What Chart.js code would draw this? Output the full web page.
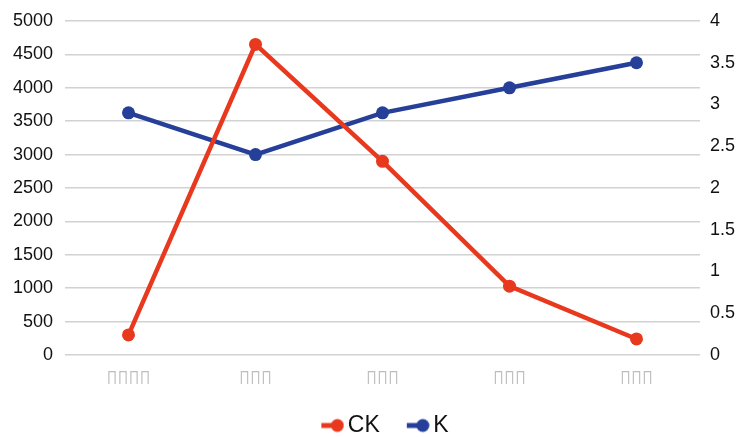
<!DOCTYPE html>
<html>
<head>
<meta charset="utf-8">
<script src="https://cdn.jsdelivr.net/npm/chart.js@4"></script>
<style>
  html, body { margin: 0; padding: 0; background: #ffffff; }
  #wrap { width: 739px; height: 437px; }
</style>
</head>
<body>
<div id="wrap"><canvas id="chart" width="739" height="437"></canvas></div>
<script>
// Category labels (glyphs the source font could not render)
const categories = ['\u25AF\u25AF\u25AF\u25AF', '\u25AF\u25AF\u25AF', '\u25AF\u25AF\u25AF', '\u25AF\u25AF\u25AF', '\u25AF\u25AF\u25AF'];
// CK series, left axis
const ckValues = [300, 4650, 2900, 1030, 240];
// K series, right axis
const kValues = [2.9, 2.4, 2.9, 3.2, 3.5];

const RED = '#e8391f';
const BLUE = '#263f98';

// Legend marker: short line ending in a dot
function legendMarker(color) {
  const c = document.createElement('canvas');
  c.width = 28; c.height = 16;
  const g = c.getContext('2d');
  g.strokeStyle = color;
  g.lineWidth = 5;
  g.beginPath();
  g.moveTo(5, 8); g.lineTo(21, 8);
  g.stroke();
  g.fillStyle = color;
  g.beginPath();
  g.arc(21, 8, 6.5, 0, Math.PI * 2);
  g.fill();
  return c;
}
const markers = [legendMarker(RED), legendMarker(BLUE)];

// Nudge the legend row to the right of the canvas centre
const legendShift = {
  id: 'legendShift',
  afterLayout(chart) {
    if (chart.legend) {
      chart.legend.left += 17;
      chart.legend.right += 17;
    }
  }
};

const tickFont = { family: 'Liberation Sans, Arial, sans-serif', size: 18, lineHeight: 1 };

new Chart(document.getElementById('chart'), {
  type: 'line',
  data: {
    labels: categories,
    datasets: [
      {
        label: 'CK',
        data: ckValues,
        yAxisID: 'y',
        borderColor: RED,
        backgroundColor: RED,
        borderWidth: 4.5,
        pointRadius: 6.5,
        pointBackgroundColor: RED,
        pointBorderWidth: 0,
        tension: 0
      },
      {
        label: 'K',
        data: kValues,
        yAxisID: 'y1',
        borderColor: BLUE,
        backgroundColor: BLUE,
        borderWidth: 4.5,
        pointRadius: 6.5,
        pointBackgroundColor: BLUE,
        pointBorderWidth: 0,
        tension: 0
      }
    ]
  },
  plugins: [legendShift],
  options: {
    responsive: false,
    animation: false,
    layout: { padding: { top: 19, left: 0, right: 0, bottom: 0 } },
    plugins: {
      tooltip: { enabled: false },
      legend: {
        position: 'bottom',
        maxHeight: 53,
        labels: {
          usePointStyle: true,
          pointStyleWidth: 12,
          boxHeight: 12,
          padding: 30,
          color: '#111111',
          font: { family: 'Liberation Sans, Arial, sans-serif', size: 23 },
          generateLabels(chart) {
            return chart.data.datasets.map((ds, i) => ({
              text: ds.label,
              fillStyle: ds.borderColor,
              strokeStyle: ds.borderColor,
              lineWidth: 0,
              pointStyle: markers[i],
              hidden: false,
              datasetIndex: i,
              fontColor: '#111111'
            }));
          }
        }
      }
    },
    scales: {
      x: {
        offset: true,
        grid: { display: false, drawTicks: false },
        border: { display: false },
        ticks: {
          padding: 12,
          color: '#bdbdbd',
          font: { family: 'DejaVu Sans, sans-serif', size: 20 }
        },
        afterFit(scale) { scale.height = 29; }
      },
      y: {
        position: 'left',
        min: 0,
        max: 5000,
        ticks: {
          stepSize: 500,
          padding: 12,
          color: '#111111',
          font: tickFont,
          callback: (v) => String(v)
        },
        grid: { color: '#d2d2d2', lineWidth: 1.5, drawTicks: false },
        border: { display: false },
        afterFit(scale) { scale.width = 65; }
      },
      y1: {
        position: 'right',
        min: 0,
        max: 4,
        ticks: {
          stepSize: 0.5,
          padding: 10,
          color: '#111111',
          font: tickFont,
          callback: (v) => String(Number(v.toFixed(1)))
        },
        grid: { drawOnChartArea: false, drawTicks: false },
        border: { display: false },
        afterFit(scale) { scale.width = 39; }
      }
    }
  }
});
</script>
</body>
</html>
